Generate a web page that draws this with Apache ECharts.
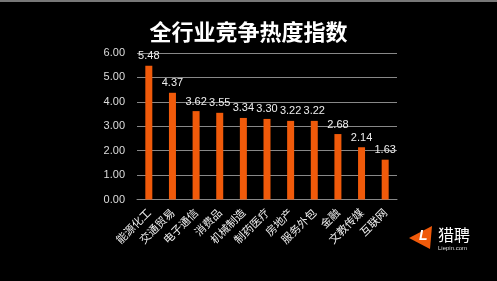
<!DOCTYPE html>
<html>
<head>
<meta charset="utf-8">
<script src="https://cdn.jsdelivr.net/npm/echarts@6/dist/echarts.min.js"></script>
<style>
html,body{margin:0;padding:0;background:#000;}
#c{width:497px;height:281px;}
</style>
</head>
<body>
<div id="c"></div>
<script>
const categories = ['能源化工','交通贸易','电子通信','消费品','机械制造','制药医疗','房地产','服务外包','金融','文教传媒','互联网'];
const values = [5.48, 4.37, 3.62, 3.55, 3.34, 3.30, 3.22, 3.22, 2.68, 2.14, 1.63];
const yTicks = [0, 1, 2, 3, 4, 5, 6];
const titleText = '全行业竞争热度指数';

const chart = echarts.init(document.getElementById('c'), null, {renderer: 'canvas'});
chart.setOption({
  backgroundColor: '#000',
  animation: false,
  title: {
    text: titleText,
    left: 'center',
    top: 16,
    textStyle: {color: '#fff', fontSize: 22, fontWeight: 'bold', fontFamily: 'Noto Sans CJK SC'}
  },
  grid: {left: 137, right: 100, top: 53, bottom: 81.5},
  xAxis: {
    type: 'category',
    data: categories,
    axisLine: {lineStyle: {color: '#888', width: 1}},
    axisTick: {show: false},
    axisLabel: {
      rotate: 45, interval: 0, color: '#eee', fontSize: 11, margin: 11,
      fontFamily: 'Noto Sans CJK SC'
    }
  },
  yAxis: {
    type: 'value',
    min: yTicks[0], max: yTicks[yTicks.length - 1], interval: 1,
    axisLine: {show: false},
    axisTick: {show: false},
    splitLine: {lineStyle: {color: '#888', width: 1}},
    axisLabel: {
      color: '#ddd', fontSize: 11, margin: 12,
      fontFamily: 'Liberation Sans',
      formatter: v => v.toFixed(2)
    }
  },
  series: [{
    type: 'bar',
    data: values,
    barWidth: 7,
    itemStyle: {color: '#F05A0A'},
    label: {
      show: true, position: 'top', color: '#eee', fontSize: 11, distance: 4,
      fontFamily: 'Liberation Sans',
      formatter: p => p.value.toFixed(2)
    }
  }],
  graphic: [
    {type: 'rect', left: 0, top: 0, shape: {width: 497, height: 2}, style: {fill: '#777'}},
    {type: 'polygon', shape: {points: [[409, 238], [432, 226], [430, 249]]}, style: {fill: '#F05A0A'}},
    {type: 'text', left: 419, top: 229, style: {text: 'L', fill: '#fff', fontSize: 14, fontWeight: 'bold', fontStyle: 'italic', fontFamily: 'Liberation Sans'}},
    {type: 'text', left: 438, top: 227, style: {text: '猎聘', fill: '#fff', fontSize: 16, fontFamily: 'Noto Sans CJK SC'}},
    {type: 'text', left: 438, top: 245, style: {text: 'Liepin.com', fill: '#ddd', fontSize: 6, fontFamily: 'Liberation Sans'}}
  ]
});
</script>
</body>
</html>
